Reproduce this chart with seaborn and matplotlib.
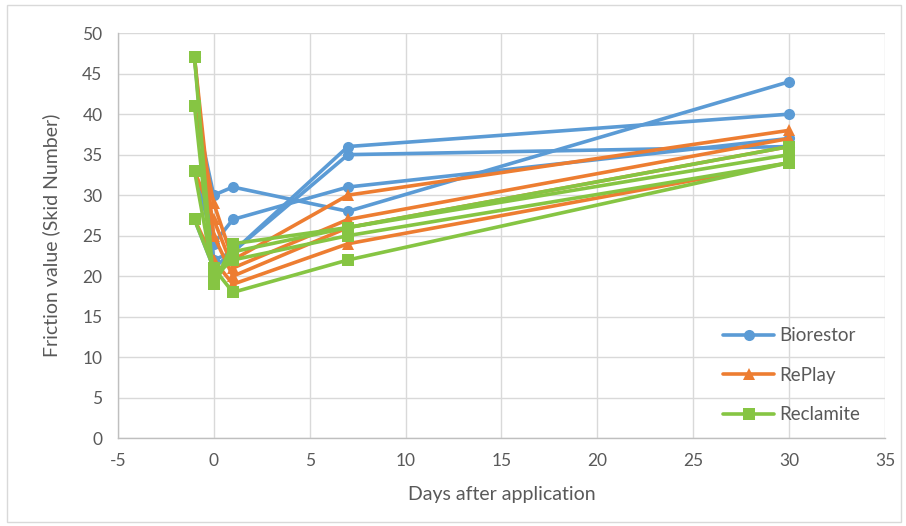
import matplotlib
matplotlib.use("Agg")
import matplotlib.pyplot as plt
import seaborn as sns
import pandas as pd
from matplotlib.patches import Rectangle

# Skid-number readings per test section, days relative to application
days = [-1, 0, 1, 7, 30]
products = ["Biorestor", "RePlay", "Reclamite"]

biorestor = [
    [41, 30, 31, 28, 44],
    [33, 24, 27, 31, 37],
    [47, 22, 23, 36, 40],
    [27, 21, 23, 35, 36],
]
replay = [
    [41, 29, 22, 30, 38],
    [33, 27, 21, 27, 37],
    [47, 25, 20, 26, 36],
    [27, 22, 19, 24, 34],
]
reclamite = [
    [47, 19, 24, 26, 36],
    [41, 19, 23, 26, 35],
    [33, 20, 22, 25, 34],
    [27, 21, 18, 22, 34],
]

colors = ["#5B9BD5", "#ED7D31", "#86C543"]
markers = ["o", "^", "s"]

rows = []
for name, series in zip(products, [biorestor, replay, reclamite]):
    for i, vals in enumerate(series):
        for d, v in zip(days, vals):
            rows.append({"product": name, "section": f"{name}-{i}", "day": d, "skid": v})
df = pd.DataFrame(rows)

sns.set_theme(style="white")
plt.rcParams["font.family"] = ["Lato", "DejaVu Sans"]
plt.rcParams["axes.unicode_minus"] = False

fig = plt.figure(figsize=(9.06, 5.26), dpi=100)
ax = fig.add_axes([0.130, 0.167, 0.847, 0.770])

sns.lineplot(
    data=df, x="day", y="skid", hue="product", style="product",
    units="section", estimator=None, hue_order=products, style_order=products,
    palette=colors, markers=dict(zip(products, markers)), dashes=False,
    linewidth=2.6, markersize=8, markeredgewidth=0, sort=False, ax=ax,
)

ax.set_xlim(-5, 35)
ax.set_ylim(0, 50)
ax.set_xticks(range(-5, 36, 5))
ax.set_yticks(range(0, 51, 5))
ax.grid(True, color="#D9D9D9", linewidth=1.0)
ax.set_axisbelow(True)
for side in ["top", "right"]:
    ax.spines[side].set_visible(False)
for side in ["left", "bottom"]:
    ax.spines[side].set_color("#BFBFBF")
    ax.spines[side].set_linewidth(1.0)
ax.tick_params(axis="both", colors="#595959", labelsize=12.5, length=0, pad=11)

ax.set_xlabel("Days after application", color="#595959", fontsize=14, labelpad=12)
ax.set_ylabel("Friction value (Skid Number)", color="#595959", fontsize=14, labelpad=16)

handles, labels = ax.get_legend_handles_labels()
leg = ax.legend(
    handles, labels, loc="lower right", bbox_to_anchor=(0.99, -0.005),
    frameon=False, fontsize=13.5, labelcolor="#595959",
    handlelength=2.7, labelspacing=1.2, handletextpad=0.3,
)

fig.patches.append(Rectangle((0.008, 0.008), 0.986, 0.982, transform=fig.transFigure,
                             fill=False, edgecolor="#D9D9D9", linewidth=1.0))

fig.savefig("out.png", dpi=100)
